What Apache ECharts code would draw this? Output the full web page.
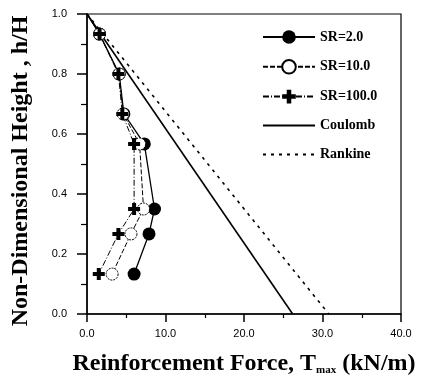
<!DOCTYPE html>
<html><head><meta charset="utf-8">
<script src="https://cdn.jsdelivr.net/npm/echarts@6/dist/echarts.min.js"></script>
<style>html,body{margin:0;padding:0;background:#fff}#c{width:422px;height:381px}</style>
</head><body><div id="c"></div>
<script>
var heights = [0.933, 0.8, 0.667, 0.567, 0.35, 0.267, 0.133];
var sr2 = [1.6, 4.1, 4.7, 7.3, 8.6, 7.9, 6.0];
var sr10 = [1.6, 4.1, 4.6, 6.7, 7.2, 5.6, 3.2];
var sr100 = [1.6, 4.0, 4.5, 6.0, 6.0, 4.0, 1.5];
var coulombX = [0, 26.2];
var rankineX = [0, 30.8];
var lineH = [1.0, 0.0];
var xTicks = ['0.0', '10.0', '20.0', '30.0', '40.0'];

function pts(xs, hs, start) {
  var d = xs.map(function (x, i) { return [x, hs[i]]; });
  if (start) d.unshift({ value: [0, 1.0], symbol: 'none' });
  return d;
}
var plus = 'path://M4,0H8V4H12V8H8V12H4V8H0V4H4Z';
var serif = 'Liberation Serif, Times New Roman, serif';
var narrow = 'Liberation Sans Narrow, Liberation Sans, Arial, sans-serif';

var chart = echarts.init(document.getElementById('c'));
chart.setOption({
  animation: false,
  backgroundColor: '#fff',
  grid: { left: 87, right: 21, top: 14, bottom: 57, show: true, borderColor: '#000', borderWidth: 1.2 },
  legend: {
    orient: 'vertical', left: 257, top: 25, itemWidth: 52, itemHeight: 17, itemGap: 15,
    textStyle: { fontFamily: serif, fontWeight: 'bold', fontSize: 14, color: '#000' },
    data: ['SR=2.0', 'SR=10.0', 'SR=100.0',
      { name: 'Coulomb', itemStyle: { opacity: 0 } },
      { name: 'Rankine', itemStyle: { opacity: 0 } }]
  },
  xAxis: {
    type: 'value', min: 0, max: 40, interval: 10,
    name: 'Reinforcement Force, T{sub|max} (kN/m)', nameLocation: 'middle', nameGap: 38,
    nameTextStyle: { fontFamily: serif, fontWeight: 'bold', fontSize: 24, color: '#000',
      rich: { sub: { fontFamily: serif, fontWeight: 'bold', fontSize: 11, verticalAlign: 'bottom', padding: [10, 0, 0, 0] } } },
    axisLine: { lineStyle: { color: '#000', width: 1.5 } },
    axisTick: { show: true, inside: false, length: 8, lineStyle: { color: '#000', width: 1.5 } },
    minorTick: { show: true, splitNumber: 2, length: 4, lineStyle: { color: '#000', width: 1.2 } },
    splitLine: { show: false },
    axisLabel: { margin: 14, fontFamily: narrow, fontSize: 11, color: '#000',
      formatter: function (v) { return xTicks[Math.round(v / 10)]; } }
  },
  yAxis: {
    type: 'value', min: 0, max: 1, interval: 0.2,
    name: 'Non-Dimensional Height , h/H', nameLocation: 'middle', nameGap: 54,
    nameTextStyle: { fontFamily: serif, fontWeight: 'bold', fontSize: 24, color: '#000', padding: [0, 14, 0, 0] },
    axisLine: { lineStyle: { color: '#000', width: 1.5 } },
    axisTick: { show: true, inside: false, length: 10, lineStyle: { color: '#000', width: 1.5 } },
    minorTick: { show: true, splitNumber: 2, length: 6, lineStyle: { color: '#000', width: 1.2 } },
    splitLine: { show: false },
    axisLabel: { margin: 20, fontFamily: narrow, fontSize: 11, color: '#000',
      formatter: function (v) { return v.toFixed(1); } }
  },
  series: [
    { name: 'SR=2.0', type: 'line', data: pts(sr2, heights, true), symbol: 'circle', symbolSize: 13,
      itemStyle: { color: '#000' }, lineStyle: { color: '#000', width: 1.3 } },
    { name: 'SR=10.0', type: 'line', data: pts(sr10, heights, true), symbol: 'circle', symbolSize: 12,
      itemStyle: { color: '#fff', borderColor: '#000', borderWidth: 1, borderType: [2, 1] },
      lineStyle: { color: '#000', width: 1, type: [5, 2] } },
    { name: 'SR=100.0', type: 'line', data: pts(sr100, heights, true), symbol: plus, symbolSize: 12,
      itemStyle: { color: '#000' }, lineStyle: { color: '#000', width: 1, type: [6, 2, 1, 2] } },
    { name: 'Coulomb', type: 'line', data: pts(coulombX, lineH, false), symbol: 'none',
      itemStyle: { color: '#000' }, lineStyle: { color: '#000', width: 1.6 } },
    { name: 'Rankine', type: 'line', data: pts(rankineX, lineH, false), symbol: 'none',
      itemStyle: { color: '#000' }, lineStyle: { color: '#000', width: 1.6, type: [3, 5] } }
  ]
});
</script></body></html>
